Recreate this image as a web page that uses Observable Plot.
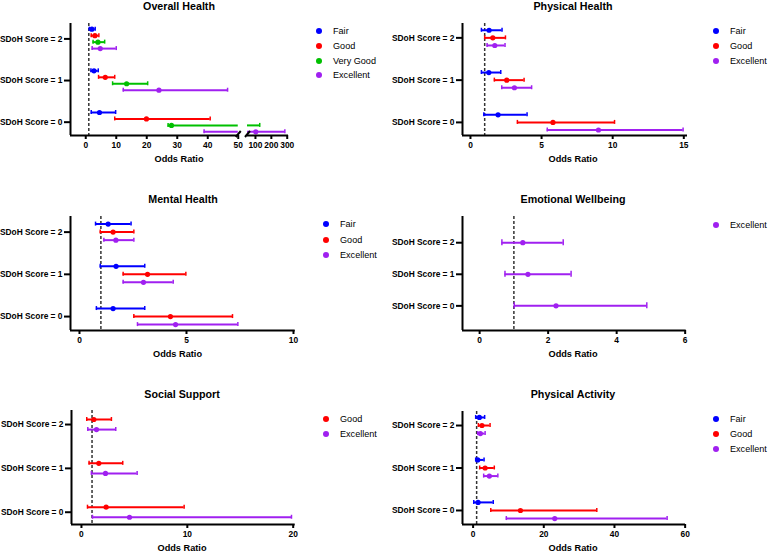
<!DOCTYPE html>
<html><head><meta charset="utf-8">
<script src="https://cdn.jsdelivr.net/npm/d3@7"></script>
<script src="https://cdn.jsdelivr.net/npm/@observablehq/plot@0.6"></script>
<style>
body{margin:0;background:#fff;}
#fig{position:relative;width:768px;height:552px;overflow:hidden;background:#fff;font-family:"Liberation Sans",Arial,sans-serif;color:#000;}
.t{position:absolute;transform:translate(-50%,-50%);font-weight:bold;white-space:nowrap;}
.title{font-size:10.7px;}
.xl{font-size:9.2px;}
.leg{position:absolute;font-size:9.1px;white-space:nowrap;transform:translateY(-50%);}
.dot{position:absolute;width:6px;height:6px;border-radius:50%;transform:translate(-50%,-50%);}
.pl{position:absolute;}
</style></head><body><div id="fig"></div>
<script>
// ---- data ----
const scores = [2, 1, 0];
const seriesNames = ["Fair", "Good", "Very Good", "Excellent"];
const seriesColors = ["#0000ff", "#ff0000", "#00c000", "#a020f0"];

// Overall Health (series-major, values for score 2,1,0)
const overallSeries = ["Fair", "Good", "Very Good", "Excellent"];
const overallOR = [[2.0, 2.7, 4.5], [3.0, 6.4, 19.9], [4.0, 13.4, 28.1], [4.75, 24.0, 102]];
const overallLo = [[1.15, 1.7, 1.8], [1.8, 4.2, 9.5], [2.4, 8.8, 27.0], [2.1, 12.3, 38.8]];
const overallHi = [[3.1, 4.1, 9.8], [4.3, 9.5, 40.8], [6.2, 20.3, 127], [10.0, 46.5, 285]];
const overallTicks = [0, 10, 20, 30, 40, 50, 100, 200, 300];

// Physical Health
const physSeries = ["Fair", "Good", "Excellent"];
const physOR = [[1.31, 1.29, 1.94], [1.57, 2.55, 5.8], [1.71, 3.09, 9.0]];
const physLo = [[0.77, 0.77, 0.94], [1.0, 1.68, 3.3], [1.17, 2.2, 5.4]];
const physHi = [[2.22, 2.13, 3.98], [2.46, 3.77, 10.13], [2.43, 4.3, 14.95]];
const physTicks = [0, 5, 10, 15];

// Mental Health
const mentSeries = ["Fair", "Good", "Excellent"];
const mentOR = [[1.34, 1.71, 1.57], [1.57, 3.18, 4.25], [1.70, 2.99, 4.49]];
const mentLo = [[0.75, 0.97, 0.79], [0.97, 2.04, 2.54], [1.14, 2.04, 2.71]];
const mentHi = [[2.41, 3.05, 3.05], [2.54, 4.97, 7.15], [2.54, 4.38, 7.4]];
const mentTicks = [0, 5, 10];

// Emotional Wellbeing
const emoSeries = ["Excellent"];
const emoOR = [[1.26, 1.41, 2.23]];
const emoLo = [[0.65, 0.74, 1.01]];
const emoHi = [[2.44, 2.67, 4.88]];
const emoTicks = [0, 2, 4, 6];

// Social Support
const socSeries = ["Good", "Excellent"];
const socOR = [[1.17, 1.64, 2.33], [1.42, 2.27, 4.54]];
const socLo = [[0.5, 0.72, 0.57], [0.6, 0.94, 1.04]];
const socHi = [[2.83, 3.9, 9.7], [3.24, 5.26, 19.84]];
const socTicks = [0, 10, 20];

// Physical Activity
const actSeries = ["Fair", "Good", "Excellent"];
const actOR = [[1.77, 1.3, 1.4], [2.5, 3.4, 13.4], [2.06, 4.6, 23.1]];
const actLo = [[0.73, 0.73, 0.19], [1.5, 1.86, 5.0], [1.3, 2.99, 9.4]];
const actHi = [[3.27, 3.1, 5.7], [4.8, 6.0, 35.0], [3.4, 7.0, 54.9]];
const actTicks = [0, 20, 40, 60];

const refLine = [1];

// ---- broken-axis mapping for Overall Health (linear 0-50, then compressed 50-300) ----
const BREAK = 50, GAP = 3.03, COMPRESS = 0.0521;
function brokenX(x) { return x <= BREAK ? x : BREAK + GAP + (x - BREAK) * COMPRESS; }
const identity = x => x;

// ---- layout ----
const panels = [
  {title: "Overall Health", series: overallSeries, or: overallOR, lo: overallLo, hi: overallHi, ticks: overallTicks,
   ox: 0, oy: 0, h: 180, left: 70, right: 288, top: 23, bottom: 135,
   xDomain: [-5, 308], fx: brokenX, brk: true,
   yDomain: [-0.32, 2.37], step: 0.155, cap: 4, titleXY: [179, 5.8], labelXY: [179, 159],
   legX: 319, legY: [31.3, 46, 61, 75.3]},
  {title: "Physical Health", series: physSeries, or: physOR, lo: physLo, hi: physHi, ticks: physTicks,
   ox: 384, oy: 0, h: 180, left: 462, right: 687, top: 23, bottom: 135,
   xDomain: [-0.56, 15.26], yDomain: [-0.31, 2.34], step: 0.18, cap: 4, titleXY: [573, 5.5], labelXY: [573, 159],
   legX: 716, legY: [30.7, 45.7, 61]},
  {title: "Mental Health", series: mentSeries, or: mentOR, lo: mentLo, hi: mentHi, ticks: mentTicks,
   ox: 0, oy: 180, h: 190, left: 70, right: 294.7, top: 216, bottom: 330,
   xDomain: [-0.42, 10.08], yDomain: [-0.33, 2.37], step: 0.19, cap: 4, titleXY: [183, 199], labelXY: [177.5, 354],
   legX: 326, legY: [224, 240, 255]},
  {title: "Emotional Wellbeing", series: emoSeries, or: emoOR, lo: emoLo, hi: emoHi, ticks: emoTicks,
   ox: 384, oy: 180, h: 190, left: 462, right: 685.7, top: 216, bottom: 330,
   xDomain: [-0.5, 6.03], yDomain: [-0.78, 2.83], step: 0, cap: 6, titleXY: [573, 199], labelXY: [573, 354],
   legX: 716, legY: [225]},
  {title: "Social Support", series: socSeries, or: socOR, lo: socLo, hi: socHi, ticks: socTicks,
   ox: 0, oy: 370, h: 182, left: 71, right: 294.7, top: 410, bottom: 524,
   xDomain: [-0.94, 20.19], yDomain: [-0.28, 2.32], step: 0.23, cap: 4, titleXY: [182, 393.5], labelXY: [182, 548],
   legX: 326, legY: [419, 434]},
  {title: "Physical Activity", series: actSeries, or: actOR, lo: actLo, hi: actHi, ticks: actTicks,
   ox: 384, oy: 370, h: 182, left: 462, right: 685, top: 411, bottom: 524,
   xDomain: [-3.0, 60.1], yDomain: [-0.33, 2.33], step: 0.19, cap: 4, titleXY: [573, 393.5], labelXY: [573, 548],
   legX: 716, legY: [419, 434, 449]}
];

const fig = document.getElementById("fig");
const slash = {draw(ctx) { ctx.moveTo(-2.5, 3); ctx.lineTo(2.5, -3); }};

function addText(cls, txt, x, y) {
  const d = document.createElement("div");
  d.className = cls; d.textContent = txt;
  d.style.left = x + "px"; d.style.top = y + "px";
  fig.appendChild(d);
}

panels.forEach(p => {
  const W = 384;
  const fx = p.fx || identity;
  const n = p.series.length;
  const rows = [];
  p.series.forEach((s, i) => scores.forEach((sc, j) => {
    rows.push({series: s, score: sc, y: sc + ((n - 1) / 2 - i) * p.step,
               or: p.or[i][j], lo: p.lo[i][j], hi: p.hi[i][j]});
  }));
  const segs = [];
  rows.forEach(r => {
    if (p.brk && r.lo < BREAK && r.hi > BREAK) {
      segs.push({...r, x1: fx(r.lo), x2: fx(BREAK)});
      segs.push({...r, x1: BREAK + GAP, x2: fx(r.hi)});
    } else segs.push({...r, x1: fx(r.lo), x2: fx(r.hi)});
  });
  const unitsPerPx = (p.yDomain[1] - p.yDomain[0]) / (p.bottom - p.top);
  const capH = p.cap / 2 * unitsPerPx;
  const vMin = fx(p.xDomain[0]), vMax = fx(p.xDomain[1]);
  const yMin = p.yDomain[0];
  const axisSegs = p.brk ? [{x1: vMin, x2: BREAK}, {x1: BREAK + GAP, x2: vMax}] : [{x1: vMin, x2: vMax}];
  const tickLabel = new Map(p.ticks.map(t => [fx(t), String(t)]));

  const marks = [
    Plot.ruleX(refLine, {x: d => fx(d), stroke: "#333", strokeWidth: 1.5, strokeDasharray: "3,2"}),
    Plot.ruleY(segs, {x1: "x1", x2: "x2", y: "y", stroke: "series", strokeWidth: 2}),
    Plot.ruleX(rows, {x: d => fx(d.lo), y1: d => d.y - capH, y2: d => d.y + capH, stroke: "series", strokeWidth: 1.5}),
    Plot.ruleX(rows, {x: d => fx(d.hi), y1: d => d.y - capH, y2: d => d.y + capH, stroke: "series", strokeWidth: 1.5}),
    Plot.dot(rows, {x: d => fx(d.or), y: "y", r: 2.6, fill: "series", stroke: "none"}),
    Plot.ruleX([vMin], {stroke: "#000", strokeWidth: 2}),
    Plot.ruleY(axisSegs, {x1: "x1", x2: "x2", y: () => yMin, stroke: "#000", strokeWidth: 2}),
    Plot.axisX({ticks: p.ticks.map(fx), tickSize: 4, tickPadding: 3, strokeWidth: 2, label: null,
                tickFormat: v => tickLabel.get(v) ?? ""}),
    Plot.axisY({ticks: scores, tickSize: 6, tickPadding: 2, strokeWidth: 2, label: null,
                tickFormat: d => `SDoH Score = ${d}`})
  ];
  if (p.brk) {
    marks.push(Plot.dot([BREAK, BREAK + GAP], {x: d => d, y: () => yMin, dy: -1.5, symbol: slash,
                                              stroke: "#000", strokeWidth: 2, fill: "none"}));
  }

  const chart = Plot.plot({
    width: W, height: p.h,
    marginLeft: p.left - p.ox, marginRight: p.ox + W - p.right,
    marginTop: p.top - p.oy, marginBottom: p.oy + p.h - p.bottom,
    x: {domain: [vMin, vMax]},
    y: {domain: p.yDomain},
    color: {domain: seriesNames, range: seriesColors},
    style: {fontFamily: "'Liberation Sans', Arial, sans-serif", fontSize: "8.4px", fontWeight: "bold",
            color: "#000", background: "none", overflow: "visible"},
    marks
  });
  chart.classList.add("pl");
  chart.style.left = p.ox + "px";
  chart.style.top = p.oy + "px";
  fig.appendChild(chart);

  addText("t title", p.title, p.titleXY[0], p.titleXY[1]);
  addText("t xl", "Odds Ratio", p.labelXY[0], p.labelXY[1]);
  p.series.forEach((s, i) => {
    const d = document.createElement("div");
    d.className = "dot";
    d.style.left = p.legX + "px"; d.style.top = p.legY[i] + "px";
    d.style.background = seriesColors[seriesNames.indexOf(s)];
    fig.appendChild(d);
    const t = document.createElement("div");
    t.className = "leg"; t.textContent = s;
    t.style.left = (p.legX + 14) + "px"; t.style.top = p.legY[i] + "px";
    fig.appendChild(t);
  });
});
</script></body></html>
